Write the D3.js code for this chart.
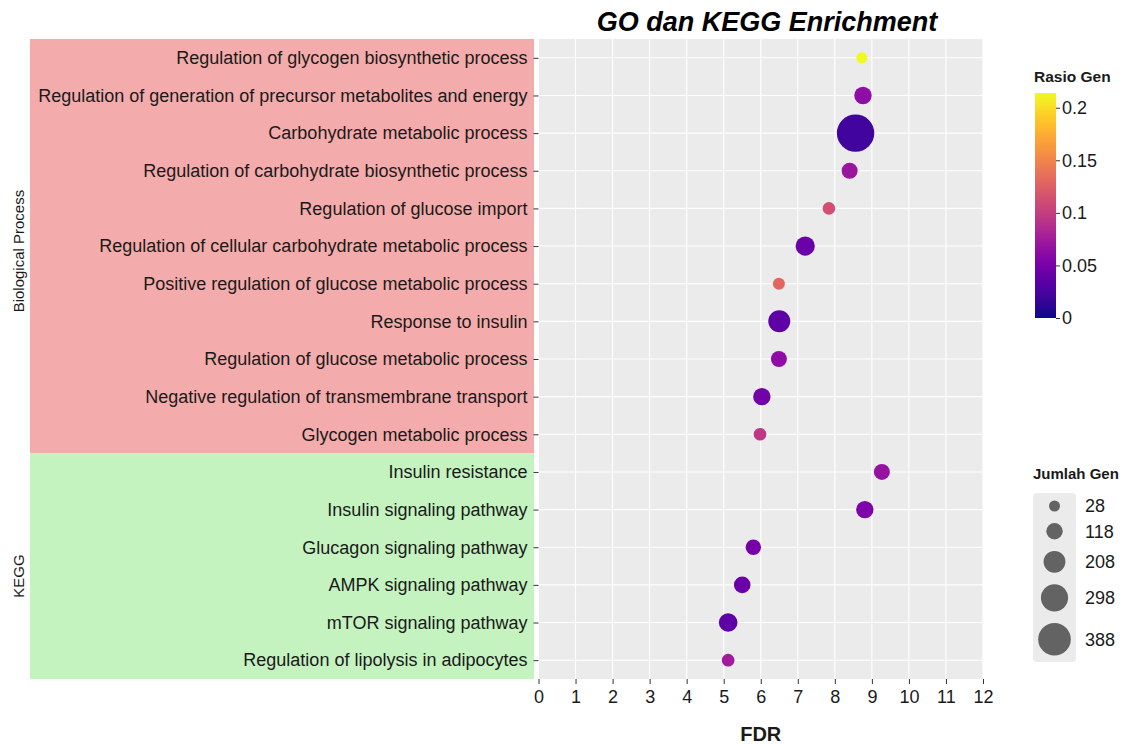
<!DOCTYPE html>
<meta charset="utf-8">
<style>
    body { margin: 0; background: #fff; }
    svg { font-family: "Liberation Sans", Arial, sans-serif; }
    .grid line { stroke: #fff; stroke-width: 1.1px; }
    .axis text { fill: #1a1a1a; font-size: 18px; }
    .axis line { stroke: #333; }
    .axis .domain { display: none; }
</style>
<svg width="1126" height="744"></svg>
<script src="https://d3js.org/d3.v7.min.js"></script>
<script>

    var terms = [
        "Regulation of glycogen biosynthetic process",
        "Regulation of generation of precursor metabolites and energy",
        "Carbohydrate metabolic process",
        "Regulation of carbohydrate biosynthetic process",
        "Regulation of glucose import",
        "Regulation of cellular carbohydrate metabolic process",
        "Positive regulation of glucose metabolic process",
        "Response to insulin",
        "Regulation of glucose metabolic process",
        "Negative regulation of transmembrane transport",
        "Glycogen metabolic process",
        "Insulin resistance",
        "Insulin signaling pathway",
        "Glucagon signaling pathway",
        "AMPK signaling pathway",
        "mTOR signaling pathway",
        "Regulation of lipolysis in adipocytes"
    ];
    var groups = ["BP", "BP", "BP", "BP", "BP", "BP", "BP", "BP", "BP", "BP", "BP",
        "KEGG", "KEGG", "KEGG", "KEGG", "KEGG", "KEGG"];
    var fdr = [8.73, 8.76, 8.56, 8.4, 7.84, 7.2, 6.49, 6.5, 6.49, 6.03, 5.98,
        9.27, 8.81, 5.8, 5.5, 5.12, 5.12];
    var ratio = [0.214, 0.064, 0.021, 0.071, 0.113, 0.043, 0.13, 0.036, 0.064, 0.047, 0.096,
        0.068, 0.054, 0.05, 0.043, 0.036, 0.075];
    var genes = [30, 135, 468, 111, 55, 165, 45, 211, 111, 135, 55,
        111, 135, 101, 121, 155, 55];

    var groupNames = ["BP", "KEGG"];
    var groupLabels = ["Biological Process", "KEGG"];
    var groupFill = ["#f4abab", "#c4f3c0"];
    var xTicks = d3.range(0, 13);
    var ratioTicks = [0, 0.05, 0.1, 0.15, 0.2];
    var geneBreaks = [28, 118, 208, 298, 388];

    var svg = d3.select("svg");
    var pLeft = 538.5, pRight = 983, pTop = 39, pBottom = 679;

    var x = d3.scaleLinear().domain([0, 12]).range([pLeft, pRight]);
    var y = d3.scalePoint().domain(terms).range([pTop, pBottom]).padding(0.5);
    var color = d3.scaleSequential(d3.interpolatePlasma).domain([0, 0.214]);
    var size = d3.scaleLinear().domain([28, 388]).range([5.5, 16.3]);

    var data = terms.map(function (t, i) {
        return {term: t, group: groups[i], fdr: fdr[i], ratio: ratio[i], genes: genes[i]};
    });

    // group background bands behind the labels
    var step = y.step();
    var labelShift = [5, 10];
    groupNames.forEach(function (g, gi) {
        var rows = data.filter(function (d) { return d.group === g; });
        var y0 = y(rows[0].term) - step / 2,
            y1 = y(rows[rows.length - 1].term) + step / 2;
        if (gi === 0) y0 = pTop;
        if (gi === groupNames.length - 1) y1 = pBottom;
        svg.append("rect")
            .attr("x", 30).attr("y", y0)
            .attr("width", 504).attr("height", y1 - y0)
            .attr("fill", groupFill[gi]);
        svg.append("text")
            .attr("transform", "translate(24," + ((y0 + y1) / 2 + labelShift[gi]) + ") rotate(-90)")
            .attr("text-anchor", "middle")
            .attr("font-size", "15px")
            .attr("fill", "#1a1a1a")
            .text(groupLabels[gi]);
    });

    // panel
    svg.append("rect")
        .attr("x", pLeft).attr("y", pTop)
        .attr("width", pRight - pLeft).attr("height", pBottom - pTop)
        .attr("fill", "#ebebeb");

    var grid = svg.append("g").attr("class", "grid");
    grid.selectAll(".v").data(xTicks).enter().append("line")
        .attr("x1", x).attr("x2", x).attr("y1", pTop).attr("y2", pBottom);
    grid.selectAll(".h").data(terms).enter().append("line")
        .attr("x1", pLeft).attr("x2", pRight)
        .attr("y1", y).attr("y2", y);

    svg.append("g")
        .attr("class", "axis")
        .attr("transform", "translate(" + pLeft + ",0)")
        .call(d3.axisLeft(y).tickSize(5).tickPadding(6));

    svg.append("g")
        .attr("class", "axis")
        .attr("transform", "translate(0," + pBottom + ")")
        .call(d3.axisBottom(x).tickValues(xTicks).tickSize(5).tickPadding(6)
            .tickFormat(d3.format("d")));

    svg.selectAll(".dot")
        .data(data)
        .enter().append("circle")
        .attr("class", "dot")
        .attr("cx", function (d) { return x(d.fdr); })
        .attr("cy", function (d) { return y(d.term); })
        .attr("r", function (d) { return size(d.genes); })
        .attr("fill", function (d) { return color(d.ratio); });

    // titles
    svg.append("text")
        .attr("x", 767).attr("y", 31)
        .attr("text-anchor", "middle")
        .attr("font-size", "27px")
        .attr("font-weight", "bold")
        .attr("font-style", "italic")
        .attr("fill", "#000")
        .text("GO dan KEGG Enrichment");

    svg.append("text")
        .attr("x", (pLeft + pRight) / 2).attr("y", 741)
        .attr("text-anchor", "middle")
        .attr("font-size", "20px")
        .attr("font-weight", "bold")
        .attr("fill", "#1a1a1a")
        .text("FDR");

    // colour bar
    var cbX = 1035, cbW = 21, cbTop = 93, cbBottom = 318;
    var cy = d3.scaleLinear().domain(color.domain()).range([cbBottom, cbTop]);
    var grad = svg.append("defs").append("linearGradient")
        .attr("id", "cbar")
        .attr("x1", 0).attr("y1", 1).attr("x2", 0).attr("y2", 0);
    grad.selectAll("stop")
        .data(d3.range(0, 1.0001, 0.05))
        .enter().append("stop")
        .attr("offset", function (t) { return t; })
        .attr("stop-color", function (t) { return d3.interpolatePlasma(t); });
    svg.append("text")
        .attr("x", 1034).attr("y", 82)
        .attr("font-size", "15.5px").attr("font-weight", "bold")
        .attr("fill", "#1a1a1a")
        .text("Rasio Gen");
    svg.append("rect")
        .attr("x", cbX).attr("y", cbTop)
        .attr("width", cbW).attr("height", cbBottom - cbTop)
        .attr("fill", "url(#cbar)");
    var cbAxis = svg.append("g")
        .attr("class", "axis")
        .attr("transform", "translate(" + (cbX + cbW) + ",0)")
        .call(d3.axisRight(cy).tickValues(ratioTicks).tickSize(4).tickPadding(2)
            .tickFormat(function (d) { return d3.format("")(+d.toFixed(2)); }));
    cbAxis.selectAll("line").attr("stroke", "#444");

    // size legend
    svg.append("text")
        .attr("x", 1033).attr("y", 479)
        .attr("font-size", "15px").attr("font-weight", "bold")
        .attr("fill", "#1a1a1a")
        .text("Jumlah Gen");
    svg.append("rect")
        .attr("x", 1033).attr("y", 493)
        .attr("width", 43).attr("height", 169)
        .attr("rx", 4)
        .attr("fill", "#ebebeb");
    var ly = [], yy = 506;
    geneBreaks.forEach(function (v, i) {
        if (i > 0) yy += size(geneBreaks[i - 1]) + size(v) + 11.5;
        ly.push(yy);
    });
    var leg = svg.selectAll(".leg")
        .data(geneBreaks)
        .enter().append("g")
        .attr("transform", function (d, i) { return "translate(0," + ly[i] + ")"; });
    leg.append("circle")
        .attr("cx", 1054.5)
        .attr("r", size)
        .attr("fill", "#636363");
    leg.append("text")
        .attr("x", 1085)
        .attr("dy", "0.35em")
        .attr("font-size", "18px")
        .attr("fill", "#1a1a1a")
        .text(function (d) { return d; });

</script>
